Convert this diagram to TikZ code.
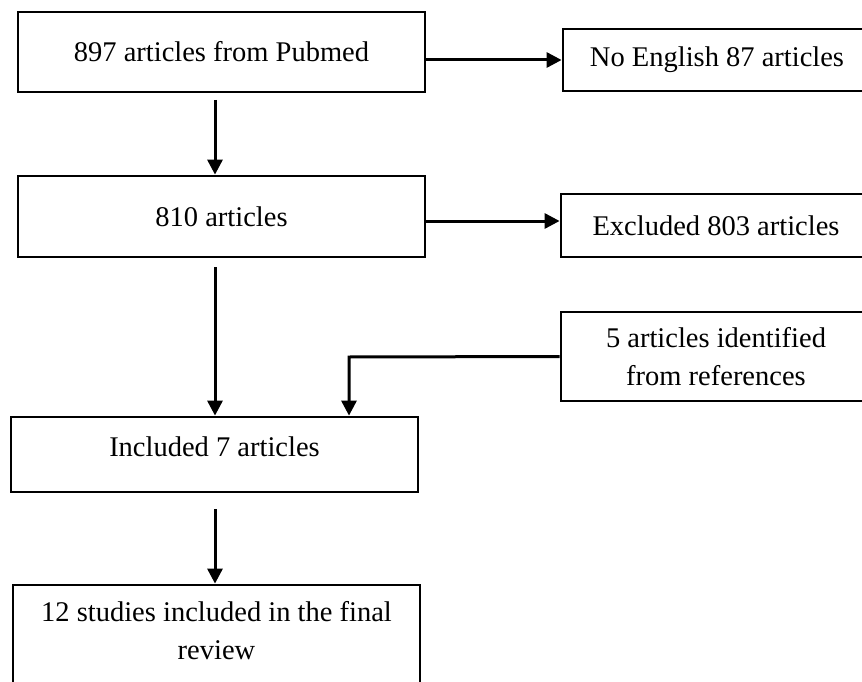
\documentclass[tikz,border=0pt]{standalone}
\usepackage{fontspec}
\setmainfont{Liberation Serif}
\usetikzlibrary{arrows.meta,calc}
\begin{document}
\begin{tikzpicture}[x=1pt,y=-1pt,
  box/.style={draw,line width=2.8pt,rectangle,inner sep=0pt,font=\fontsize{28.5}{38}\selectfont,align=center},
  lbl/.style={inner sep=0pt,font=\fontsize{28.5}{38}\selectfont,align=center},
  arr/.style={line width=3pt,-{Triangle[length=15pt,width=15pt]}}]
\useasboundingbox (0,0) rectangle (862,682);
\clip (0,0) rectangle (862,682);
\fill[white] (0,0) rectangle (862,682);
% boxes
\node[box,minimum width=407pt,minimum height=80pt] (b1) at (221.5,52) {897 articles from Pubmed};
\node[box,minimum width=308pt,minimum height=62pt] (b2) at (717,60) {No English 87 articles};
\node[box,minimum width=407pt,minimum height=81pt] (b3) at (221.5,216.5) {810 articles};
\node[box,minimum width=310pt,minimum height=63pt] (b4) at (716,225.5) {Excluded 803 articles};
\node[box,minimum width=310pt,minimum height=89pt] (b5) at (716,356.5) {5 articles identified\\from references};
\node[box,minimum width=407pt,minimum height=75pt] (b6) at (214.5,454.5) {};
\node[lbl] (t6) at (214.5,447) {Included 7 articles};
\node[box,minimum width=407pt,minimum height=135pt] (b7) at (216.5,652.5) {};
\node[lbl,anchor=north] (t7) at (216.5,601) {12 studies included in the final\\review};
% connectors
\coordinate (a1s) at (215,100);
\coordinate (a2s) at (215,267);
\coordinate (a3s) at (215,509);
\coordinate (m) at (0,221);
\coordinate (j) at (349,357);
\draw[arr] (b2.west -| b1.east) -- (b2.west);
\draw[arr] (m -| b3.east) -- (m -| b4.west);
\draw[arr] (a1s) -- (a1s |- b3.north);
\draw[arr] (a2s) -- (a2s |- b6.north);
\draw[arr] (a3s) -- (a3s |- b7.north);
\draw[arr] (b5.west) -- (j) -- (j |- b6.north);
\end{tikzpicture}
\end{document}
